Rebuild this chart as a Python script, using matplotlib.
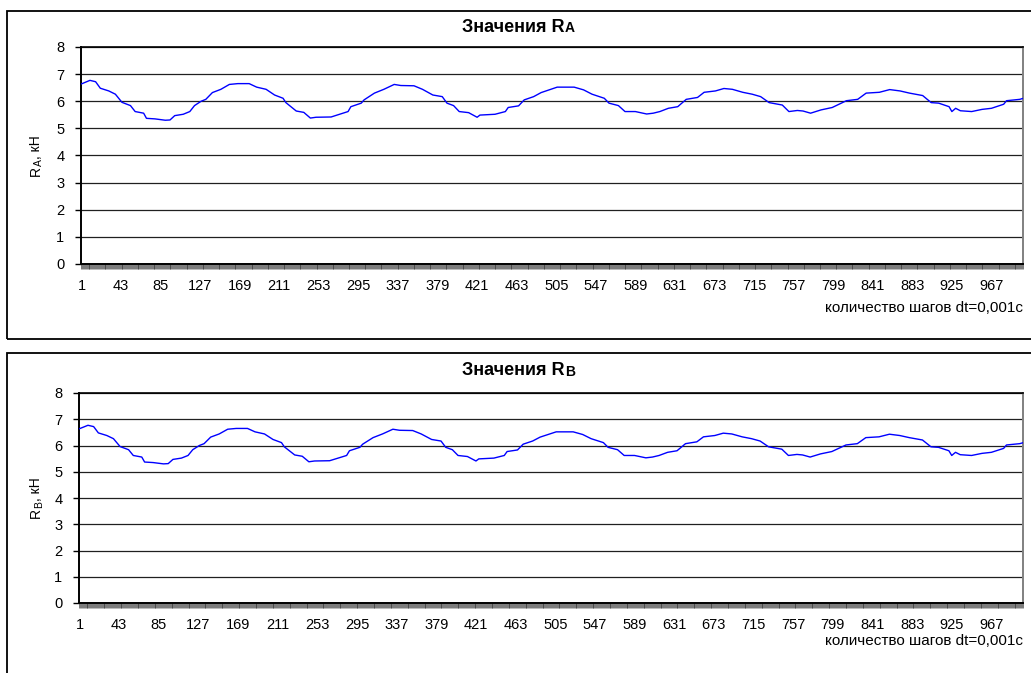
import numpy as np
import matplotlib
matplotlib.use("Agg")
import matplotlib.pyplot as plt
from matplotlib.patches import Rectangle

plt.rcParams['font.family'] = ['Liberation Sans', 'DejaVu Sans']

# ---- data -------------------------------------------------------------
n_steps = 1000
tick_labels = list(range(1, n_steps + 1, 42))          # 1, 43, ..., 967
y_ticks = [0, 1, 2, 3, 4, 5, 6, 7, 8]

steps = [1, 10, 16, 21, 30, 37, 44, 53, 58, 67, 70, 79, 90, 95, 100, 109,
         116, 121, 128, 133, 140, 149, 158, 167, 179, 187, 197, 206, 215,
         218, 229, 237, 244, 250, 266, 275, 284, 287, 298, 301, 312, 322,
         333, 340, 354, 363, 374, 384, 389, 396, 402, 412, 421, 424, 440,
         451, 454, 465, 471, 481, 489, 506, 524, 534, 543, 556, 561, 571,
         578, 589, 601, 608, 615, 624, 634, 643, 655, 662, 674, 683, 692,
         703, 713, 722, 731, 745, 752, 761, 767, 775, 786, 798, 813, 825,
         834, 848, 859, 870, 880, 894, 903, 911, 922, 925, 929, 934, 946,
         957, 967, 980, 983, 997, 1000]

ra_values = [6.64, 6.77, 6.72, 6.48, 6.38, 6.26, 5.96, 5.84, 5.62, 5.56,
             5.37, 5.35, 5.30, 5.31, 5.47, 5.52, 5.62, 5.84, 6.00, 6.07,
             6.32, 6.44, 6.62, 6.65, 6.65, 6.52, 6.44, 6.23, 6.11, 5.95,
             5.64, 5.59, 5.38, 5.41, 5.42, 5.52, 5.62, 5.80, 5.93, 6.05,
             6.30, 6.44, 6.62, 6.58, 6.57, 6.44, 6.23, 6.17, 5.93, 5.84,
             5.62, 5.58, 5.41, 5.49, 5.52, 5.62, 5.77, 5.83, 6.05, 6.17,
             6.32, 6.52, 6.52, 6.42, 6.26, 6.11, 5.93, 5.84, 5.62, 5.62,
             5.53, 5.56, 5.62, 5.74, 5.80, 6.07, 6.14, 6.33, 6.38, 6.47,
             6.44, 6.33, 6.26, 6.17, 5.95, 5.86, 5.62, 5.66, 5.64, 5.56,
             5.68, 5.77, 6.02, 6.07, 6.30, 6.33, 6.43, 6.38, 6.30, 6.21,
             5.95, 5.93, 5.80, 5.62, 5.74, 5.65, 5.62, 5.70, 5.74, 5.89,
             6.02, 6.07, 6.10]

rb_values = [6.64, 6.77, 6.72, 6.48, 6.38, 6.26, 5.96, 5.84, 5.62, 5.56,
             5.37, 5.35, 5.30, 5.31, 5.47, 5.52, 5.62, 5.84, 6.00, 6.07,
             6.32, 6.44, 6.62, 6.65, 6.65, 6.52, 6.44, 6.23, 6.11, 5.95,
             5.64, 5.59, 5.38, 5.41, 5.42, 5.52, 5.62, 5.80, 5.93, 6.05,
             6.30, 6.44, 6.62, 6.58, 6.57, 6.44, 6.23, 6.17, 5.93, 5.84,
             5.62, 5.58, 5.41, 5.49, 5.52, 5.62, 5.77, 5.83, 6.05, 6.17,
             6.32, 6.52, 6.52, 6.42, 6.26, 6.11, 5.93, 5.84, 5.62, 5.62,
             5.53, 5.56, 5.62, 5.74, 5.80, 6.07, 6.14, 6.33, 6.38, 6.47,
             6.44, 6.33, 6.26, 6.17, 5.95, 5.86, 5.62, 5.66, 5.64, 5.56,
             5.68, 5.77, 6.02, 6.07, 6.30, 6.33, 6.43, 6.38, 6.30, 6.21,
             5.95, 5.93, 5.80, 5.62, 5.74, 5.65, 5.62, 5.70, 5.74, 5.89,
             6.02, 6.07, 6.10]

x_label = "количество шагов dt=0,001с"

# ---- figure -----------------------------------------------------------
W, H = 1031, 673
fig = plt.figure(figsize=(W / 100, H / 100), dpi=100)


def px(x0, y0, x1, y1):
    """Pixel box (top-left origin) -> figure fraction rect."""
    return [x0 / W, 1 - y1 / H, (x1 - x0) / W, (y1 - y0) / H]


def draw_panel(box, plot_box, values, sub, title_y, xlabel_y):
    # chart frame
    bx0, by0, bx1, by1 = box
    fig.patches.append(Rectangle((bx0 / W, 1 - by1 / H), (bx1 - bx0) / W,
                                 (by1 - by0) / H, transform=fig.transFigure,
                                 fill=False, edgecolor='black', lw=1.3))

    ax = fig.add_axes(px(*plot_box))
    ax.plot(steps, values, color='#0000ff', lw=1.0, zorder=3)

    ax.set_xlim(0.5, n_steps + 0.5)
    ax.set_ylim(0, 8)
    ax.set_yticks(y_ticks)
    ax.yaxis.grid(True, color='#202020', lw=0.9)
    ax.set_axisbelow(True)

    ax.set_xticks(tick_labels)
    ax.set_xticklabels([str(t) for t in tick_labels])
    ax.set_xticks(np.arange(0.5, n_steps + 1.0, 1.0), minor=True)
    ax.tick_params(axis='x', which='major', length=0, pad=11, labelsize=10.5)
    ax.tick_params(axis='x', which='minor', length=3.8, width=0.45,
                   color='#303030', direction='out')
    ax.tick_params(axis='y', which='major', length=4, width=1.0,
                   direction='out', pad=8, labelsize=10.5)

    for s in ['left', 'bottom']:
        ax.spines[s].set_color('black')
        ax.spines[s].set_linewidth(1.4)
    ax.spines['top'].set_color('black')
    ax.spines['top'].set_linewidth(1.2)
    ax.spines['right'].set_color('#808080')
    ax.spines['right'].set_linewidth(1.4)

    # title with small letter index
    cx = 523 / W
    t = fig.text(cx - 0.009, 1 - title_y / H, "Значения R", ha='center',
                 va='center', fontsize=13, fontweight='bold')
    ax.annotate(sub, xy=(1, 0), xycoords=t, ha='left', va='bottom',
                fontsize=10, fontweight='bold')

    # y label: R with index, then units
    yl_x = 36 / W
    yc = 1 - (plot_box[1] + plot_box[3]) / 2 / H
    yl = fig.text(yl_x, yc - 0.03, "R", rotation=90, ha='center',
                  va='bottom', fontsize=10)

    # axis title at the lower right of the chart
    fig.text(1023 / W, 1 - xlabel_y / H, x_label, ha='right', va='center',
             fontsize=11)
    return ax, yl


ax1, yl1 = draw_panel((7, 11, 1060, 339), (81, 47, 1023, 264), ra_values,
                      "A", 27, 308)
ax2, yl2 = draw_panel((7, 353, 1060, 700), (79, 393, 1023, 603), rb_values,
                      "B", 370, 641)

fig.canvas.draw()
for yl, sub in ((yl1, "A"), (yl2, "B")):
    bb = yl.get_window_extent()
    sub_t = fig.text(36 / W + 0.003, bb.y1 / H, sub, rotation=90,
                     ha='center', va='bottom', fontsize=7.5)
    fig.canvas.draw()
    bb2 = sub_t.get_window_extent()
    fig.text(36 / W, bb2.y1 / H, ", кН", rotation=90, ha='center',
             va='bottom', fontsize=10)

fig.savefig("out.png", dpi=100)
